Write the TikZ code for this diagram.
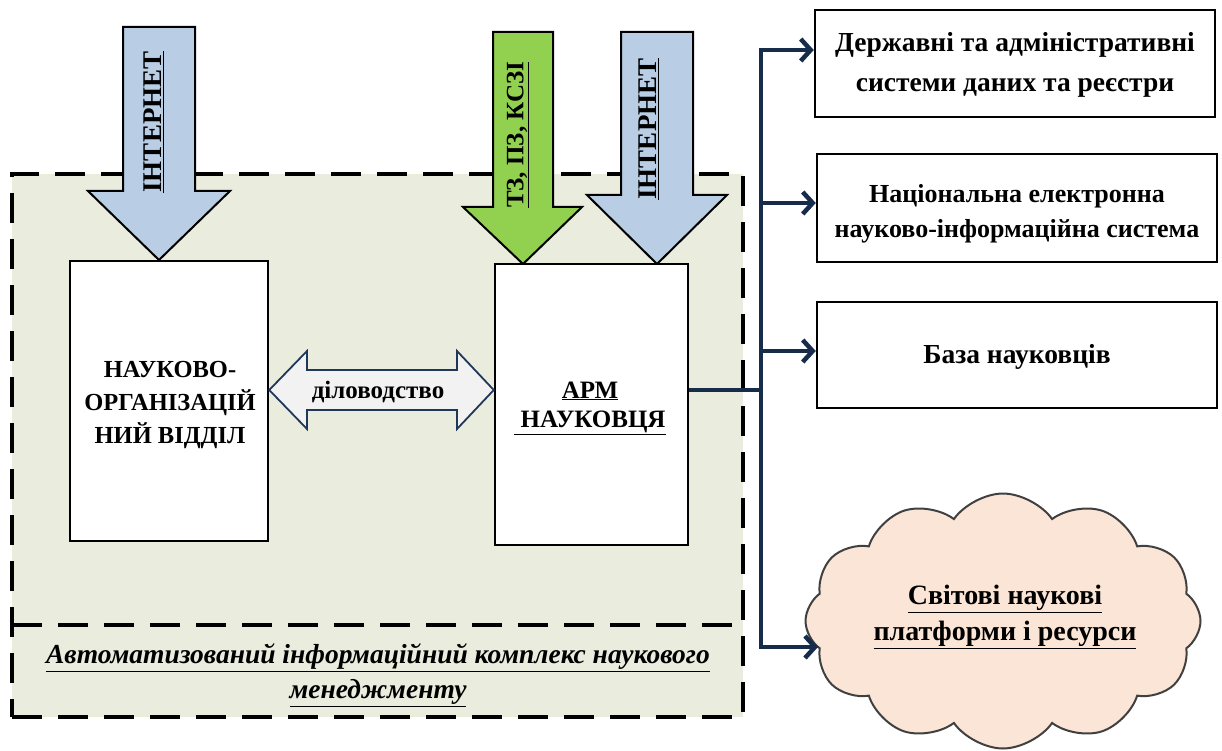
\documentclass[tikz,border=0pt]{standalone}
\usepackage{fontspec}
\setmainfont{Liberation Serif}
\usetikzlibrary{shapes.symbols,arrows.meta}
\definecolor{region}{RGB}{234,236,222}
\definecolor{navy}{RGB}{23,44,74}
\definecolor{arrblue}{RGB}{185,205,229}
\definecolor{arrgreen}{RGB}{146,208,80}
\definecolor{cloudfill}{RGB}{251,229,214}
\definecolor{dblfill}{RGB}{242,242,242}
\definecolor{dbldraw}{RGB}{31,56,90}
\definecolor{cloudline}{RGB}{64,64,64}
\begin{document}
\begin{tikzpicture}[x=1pt,y=-1pt,
  box/.style={draw=black, line width=2.5pt, fill=white, inner sep=0pt},
  blk/.style={draw=black, line width=2pt, line join=miter},
  bus/.style={draw=navy, line width=4.5pt},
  busarr/.style={bus, -{Straight Barb[length=10pt,width=22pt]}},
  regionbox/.style={draw=black, fill=region, dash pattern=on 30pt off 16pt, line width=3.5pt, inner sep=0pt},
  regionline/.style={draw=black, dash pattern=on 30pt off 16pt, line width=3.5pt},
  tx/.style={align=center, inner sep=0pt, font=\bfseries\fontsize{#1}{#1}\selectfont},
  vtxt/.style={font=\bfseries\fontsize{27}{32}\selectfont, rotate=90, inner sep=0pt},
]
\useasboundingbox (0,0) rectangle (1222,751);

% container region
\node[regionbox, minimum width=731pt, minimum height=543pt] (aik) at (377.5,445.5) {};
\coordinate (dl) at (12,625);
\coordinate (dr) at (743,625);
\draw[regionline] (dl) -- (dr);
\node[font=\bfseries\itshape\fontsize{27.5}{35}\selectfont, align=center] (lab) at (378,675)
  {\underline{Автоматизований інформаційний комплекс наукового}\\\underline{менеджменту}};

% block arrows
\path[blk, fill=arrblue] (123,27) -- (195,27) -- (195,191) -- (230,191) -- (159,260) -- (88,191) -- (123,191) -- cycle;
\path[blk, fill=arrgreen] (493,32) -- (553,32) -- (553,207) -- (582,207) -- (523,264) -- (463,207) -- (493,207) -- cycle;
\path[blk, fill=arrblue] (621,32) -- (693,32) -- (693,195) -- (727,195) -- (657,264) -- (587,195) -- (621,195) -- cycle;
\node[vtxt] (inet1) at (154,122) {\underline{ІНТЕРНЕТ}};
\node[vtxt, font=\bfseries\fontsize{25}{30}\selectfont] (tz) at (518,135) {\underline{ТЗ, ПЗ, КСЗІ}};
\node[vtxt] (inet2) at (649,129) {\underline{ІНТЕРНЕТ}};

% main boxes
\node[box, minimum width=198pt, minimum height=280pt] (org) at (169,401) {};
\node[tx=24.5, font=\bfseries\fontsize{24.5}{33}\selectfont] (orgt) at (170,405)
  {НАУКОВО-\\ОРГАНІЗАЦІЙ\\НИЙ ВІДДІЛ};
\node[box, minimum width=193pt, minimum height=281pt] (arm) at (591.5,404.5) {};
\node[tx=25, font=\bfseries\fontsize{25}{29}\selectfont] (armt) at (590,408)
  {\underline{АРМ}\\\underline{\ НАУКОВЦЯ}};

% double arrow
\path[draw=dbldraw, line width=1.8pt, fill=dblfill, line join=miter]
  (org.east |- 0,390) -- (307,351) -- (307,370) -- (457,370) -- (457,351) -- (arm.west |- 0,390)
  -- (457,429) -- (457,410) -- (307,410) -- (307,429) -- cycle;
\node[tx=25] (dil) at (378,392) {діловодство};

% right boxes
\node[box, minimum width=400pt, minimum height=107pt] (st) at (1015,63.5) {};
\node[tx=27.5, font=\bfseries\fontsize{27.5}{40}\selectfont] (stt) at (1015,65)
  {Державні та адміністративні\\системи даних та реєстри};
\node[box, minimum width=400pt, minimum height=108pt] (nat) at (1017,208) {};
\node[tx=26, font=\bfseries\fontsize{26}{35}\selectfont] (natt) at (1017,214)
  {Національна електронна\\науково-інформаційна система};
\node[box, minimum width=400pt, minimum height=106pt] (baza) at (1017,355) {};
\node[tx=27.5] (bazat) at (1017,357) {База науковців};

% cloud
\node[cloud, cloud puffs=12, cloud puff arc=110, aspect=1.55, draw=cloudline, line width=2pt,
  fill=cloudfill, minimum width=395pt, minimum height=255pt] (world) at (1003,621) {};
\node[tx=28, font=\bfseries\fontsize{28}{36}\selectfont] (worldt) at (1005,617)
  {\underline{Світові наукові}\\\underline{платформи і ресурси}};

% bus connectors
\coordinate (j) at (761,390);
\coordinate (b1) at (761,50);
\coordinate (b2) at (761,203);
\coordinate (b3) at (761,351);
\coordinate (b4) at (761,647);
\coordinate (cl) at (818,647);
\draw[bus] (arm.east |- j) -- (j);
\draw[bus, line cap=rect] (b1) -- (b4);
\draw[busarr] (b1) -- (b1 -| st.west);
\draw[busarr] (b2) -- (b2 -| nat.west);
\draw[busarr] (b3) -- (b3 -| baza.west);
\draw[busarr] (b4) -- (cl);
\end{tikzpicture}
\end{document}
